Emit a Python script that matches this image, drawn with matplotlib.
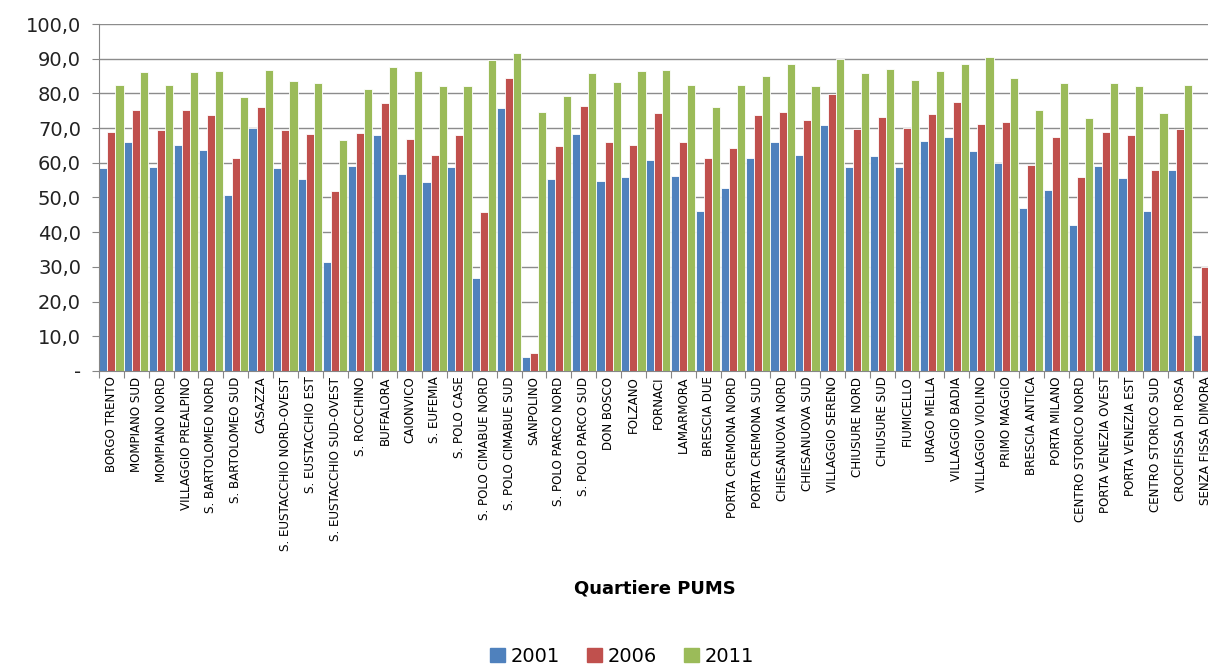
# Grouped bar chart: values per Quartiere PUMS, 2001 / 2006 / 2011
import matplotlib.pyplot as plt
import numpy as np
from matplotlib.patches import Patch
from matplotlib.ticker import FuncFormatter

plt.rcParams['font.family'] = ['DejaVu Sans']

quartieri = [
    'BORGO TRENTO', 'MOMPIANO SUD', 'MOMPIANO NORD', 'VILLAGGIO PREALPINO',
    'S. BARTOLOMEO NORD', 'S. BARTOLOMEO SUD', 'CASAZZA', 'S. EUSTACCHIO NORD-OVEST',
    'S. EUSTACCHIO EST', 'S. EUSTACCHIO SUD-OVEST', 'S. ROCCHINO', 'BUFFALORA',
    'CAIONVICO', 'S. EUFEMIA', 'S. POLO CASE', 'S. POLO CIMABUE NORD',
    'S. POLO CIMABUE SUD', 'SANPOLINO', 'S. POLO PARCO NORD', 'S. POLO PARCO SUD',
    'DON BOSCO', 'FOLZANO', 'FORNACI', 'LAMARMORA', 'BRESCIA DUE',
    'PORTA CREMONA NORD', 'PORTA CREMONA SUD', 'CHIESANUOVA NORD', 'CHIESANUOVA SUD',
    'VILLAGGIO SERENO', 'CHIUSURE NORD', 'CHIUSURE SUD', 'FIUMICELLO', 'URAGO MELLA',
    'VILLAGGIO BADIA', 'VILLAGGIO VIOLINO', 'PRIMO MAGGIO', 'BRESCIA ANTICA',
    'PORTA MILANO', 'CENTRO STORICO NORD', 'PORTA VENEZIA OVEST', 'PORTA VENEZIA EST',
    'CENTRO STORICO SUD', 'CROCIFISSA DI ROSA', 'SENZA FISSA DIMORA',
]

v2001 = [58.4, 65.9, 58.8, 65.1, 63.8, 50.6, 70.1, 58.4, 55.2, 31.3, 59.1, 68.0,
         56.9, 54.5, 58.8, 26.8, 75.8, 4.1, 55.2, 68.4, 54.8, 55.9, 60.9, 56.3, 46.0,
         52.7, 61.5, 65.9, 62.3, 70.8, 58.8, 61.9, 58.8, 66.2, 67.3, 63.4, 60.0, 47.0,
         52.3, 42.0, 59.1, 55.5, 46.0, 58.0, 10.5]
v2006 = [69.0, 75.1, 69.4, 75.1, 73.7, 61.3, 76.2, 69.4, 68.4, 52.0, 68.7, 77.1,
         66.9, 62.3, 68.0, 45.7, 84.3, 5.2, 64.8, 76.5, 65.9, 65.2, 74.3, 65.9, 61.5,
         64.4, 73.7, 74.7, 72.2, 79.7, 69.8, 73.3, 70.1, 74.0, 77.6, 71.2, 71.9, 59.4,
         67.3, 55.9, 69.0, 68.0, 58.0, 69.8, 29.9]
v2011 = [82.5, 86.1, 82.5, 86.1, 86.4, 78.9, 86.8, 83.7, 82.9, 66.5, 81.4, 87.5,
         86.4, 82.1, 82.1, 89.7, 91.7, 74.7, 79.2, 85.8, 83.2, 86.4, 86.8, 82.5, 76.2,
         82.5, 85.0, 88.6, 82.1, 89.9, 85.8, 87.1, 83.9, 86.4, 88.6, 90.4, 84.3, 75.1,
         82.9, 73.0, 82.9, 82.1, 74.3, 82.5, 55.0]

anni = ['2001', '2006', '2011']
colori = ['#4F81BD', '#C0504D', '#9BBB59']

fig = plt.figure(figsize=(12.08, 6.67), dpi=100)
# plot area runs past the right edge, like the clipped original
ax = fig.add_axes([0.082, 0.4438, 0.926, 0.5202])

x = np.arange(len(quartieri))
w = 0.325
for k, (vals, col) in enumerate(zip([v2001, v2006, v2011], colori)):
    ax.bar(x + 0.01 + k * w, vals, width=w, align='edge', color=col,
           edgecolor='white', linewidth=0.6, zorder=3)

ax.set_xlim(0, len(quartieri))
ax.set_ylim(0, 100)
ax.set_yticks(np.arange(0, 101, 10))
ax.yaxis.set_major_formatter(FuncFormatter(
    lambda v, p: '-' if v == 0 else f'{v:.1f}'.replace('.', ',')))
ax.tick_params(axis='y', labelsize=14, length=5, color='#868686',
               labelcolor='#222222', pad=8)

ax.set_xticks(x, minor=False)
ax.set_xticklabels([])
ax.tick_params(axis='x', which='major', length=5, color='#868686')
ax.set_xticks(x + 0.5, minor=True)
ax.set_xticklabels(quartieri, minor=True, rotation=90, fontsize=8.6, va='top', ha='center')
ax.tick_params(axis='x', which='minor', length=0, pad=4)

ax.grid(axis='y', color='#8c8c8c', linewidth=1, zorder=0)
for s in ['top', 'right']:
    ax.spines[s].set_visible(False)
for s in ['left', 'bottom']:
    ax.spines[s].set_color('#868686')
    ax.spines[s].set_zorder(4)

fig.text(0.542, 0.118, 'Quartiere PUMS', ha='center', va='center',
         fontsize=13, fontweight='bold')

handles = [Patch(color=c) for c in colori]
fig.legend(handles, anni, loc='center', bbox_to_anchor=(0.515, 0.016), ncol=3,
           frameon=False, fontsize=14, handlelength=0.75, handleheight=0.75,
           handletextpad=0.3, columnspacing=1.4)

fig.savefig('out.png', dpi=100)
